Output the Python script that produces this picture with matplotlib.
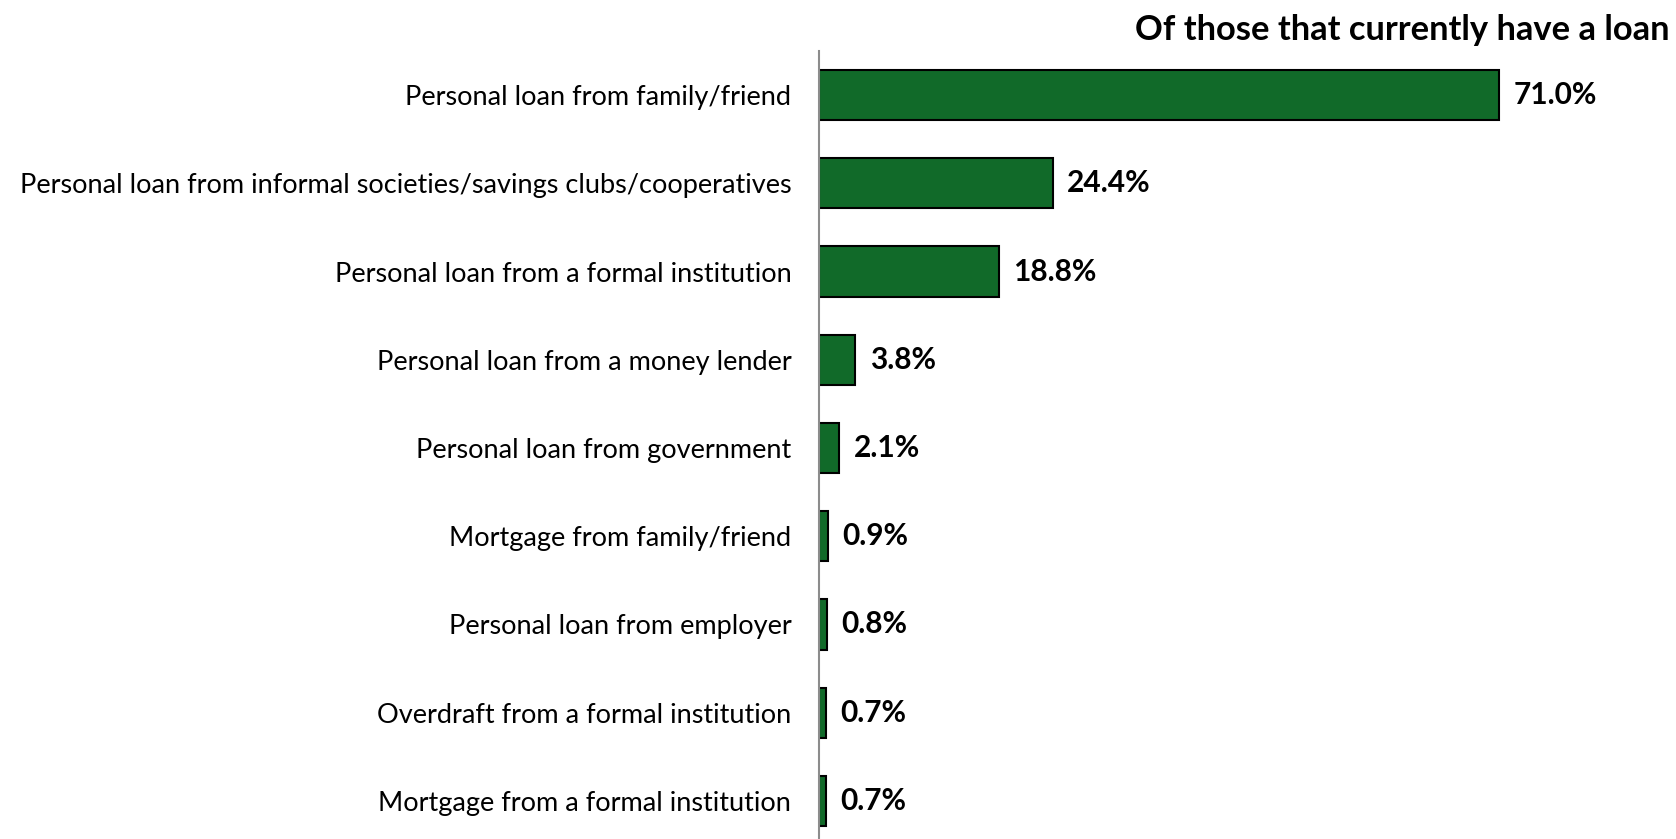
import matplotlib
matplotlib.use('Agg')
import matplotlib.pyplot as plt

plt.rcParams['font.family'] = ['Lato', 'DejaVu Sans']

# Loan types (top to bottom) and share of those with a loan (%)
loan_types = ['Personal loan from family/friend',
              'Personal loan from informal societies/savings clubs/cooperatives',
              'Personal loan from a formal institution',
              'Personal loan from a money lender',
              'Personal loan from government',
              'Mortgage from family/friend',
              'Personal loan from employer',
              'Overdraft from a formal institution',
              'Mortgage from a formal institution']
share = [71.0, 24.4, 18.8, 3.8, 2.1, 0.9, 0.8, 0.7, 0.7]

title = 'Of those that currently have a loan'

fig = plt.figure(figsize=(16.76, 8.39), dpi=100)
ax = fig.add_axes([0.4887, -0.0072, 0.4571, 0.9464])

pos = list(range(len(loan_types)))
ax.barh(pos, share, height=0.57, color='#116A29', edgecolor='black', linewidth=1.5)

for p, v in zip(pos, share):
    ax.text(v + 1.5, p, '%.1f%%' % v, va='center', ha='left',
            fontsize=21.5, fontweight='bold')

ax.set_ylim(len(loan_types) - 0.5, -0.5)
ax.set_xlim(0, 80)
ax.set_yticks(pos)
ax.set_yticklabels(loan_types, fontsize=19.5)
ax.tick_params(axis='y', length=0, pad=20)
ax.set_xticks([])
for s in ['top', 'right', 'bottom']:
    ax.spines[s].set_visible(False)
ax.spines['left'].set_color('#8c8c8c')
ax.spines['left'].set_linewidth(1.5)

fig.text(0.9964, 0.964, title, ha='right', va='center', fontsize=24.8, fontweight='bold')

fig.savefig('out.png', dpi=100)
